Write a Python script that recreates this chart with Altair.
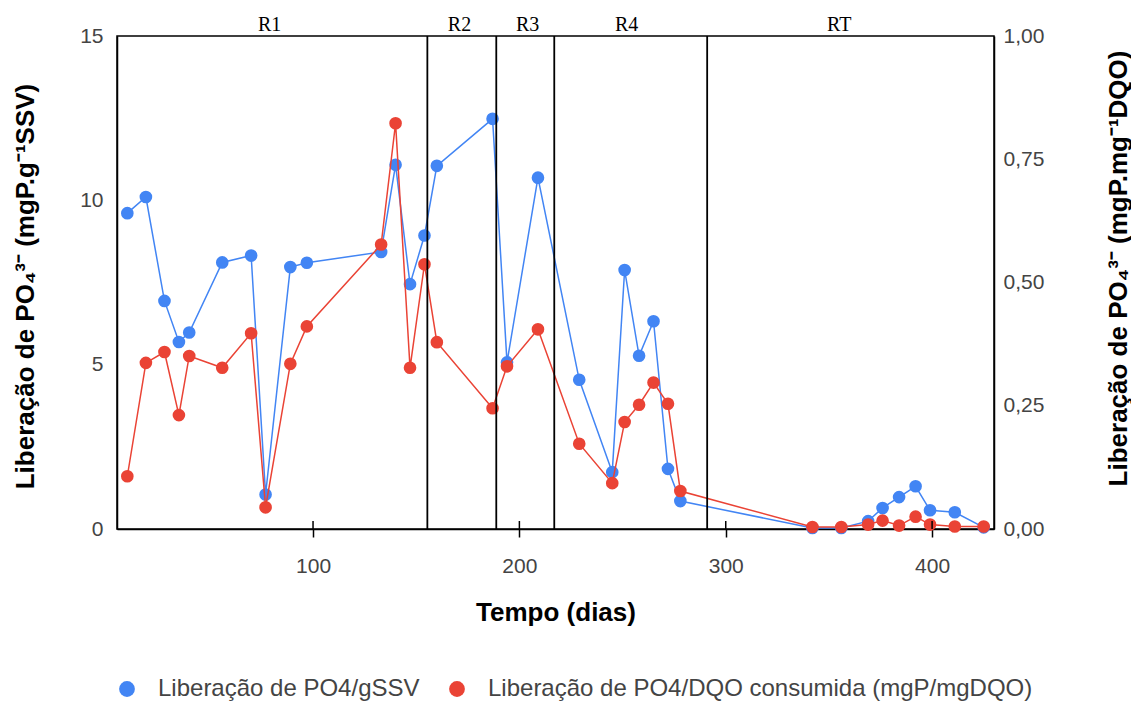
import altair as alt
import pandas as pd

# Sampling days (shared by both series)
dias = [10, 19, 28, 35, 40, 56, 70, 77, 89, 97, 133, 140, 147, 154, 160, 187,
        194, 209, 229, 245, 251, 258, 265, 272, 278, 342, 356, 369, 376, 384,
        392, 399, 411, 425]

# Phosphate release per gram of volatile suspended solids (mgP/gSSV)
po4_ssv = [9.61, 10.10, 6.94, 5.69, 5.98, 8.11, 8.32, 1.05, 7.97, 8.10, 8.43,
           11.08, 7.45, 8.93, 11.05, 12.48, 5.07, 10.69, 4.54, 1.73, 7.88, 5.27,
           6.32, 1.83, 0.85, 0.03, 0.03, 0.24, 0.64, 0.97, 1.30, 0.57, 0.51, 0.05]

# Phosphate release per consumed COD (mgP/mgDQO)
po4_dqo = [0.107, 0.337, 0.359, 0.231, 0.351, 0.327, 0.397, 0.044, 0.335, 0.411,
           0.577, 0.823, 0.327, 0.537, 0.379, 0.245, 0.330, 0.405, 0.173, 0.093,
           0.217, 0.252, 0.297, 0.254, 0.077, 0.004, 0.004, 0.009, 0.017, 0.007,
           0.025, 0.009, 0.005, 0.005]

# Operating phases
fases = ["R1", "R2", "R3", "R4", "RT"]
fases_dia = [79, 171, 204, 252, 355]
limites_fase = [155.4, 188.8, 216.9, 291.0]

ticks_x = [100, 200, 300, 400]

serie_ssv = "Liberação de PO4/gSSV"
serie_dqo = "Liberação de PO4/DQO consumida (mgP/mgDQO)"
azul = "#4285F4"
vermelho = "#EA4335"

df_ssv = pd.DataFrame({"dia": dias, "valor": po4_ssv, "serie": serie_ssv})
df_dqo = pd.DataFrame({"dia": dias, "valor": po4_dqo, "serie": serie_dqo})
df_fases = pd.DataFrame({"dia": fases_dia, "fase": fases})
df_limites = pd.DataFrame({"dia": limites_fase})
df_ticks = pd.DataFrame({"dia": ticks_x})

W, H = 877, 493
FONT = "Liberation Sans"

x_scale = alt.Scale(domain=[5, 430], nice=False, zero=False)
cor = alt.Color(
    "serie:N",
    scale=alt.Scale(domain=[serie_ssv, serie_dqo], range=[azul, vermelho]),
    legend=alt.Legend(
        title=None, orient="none", direction="horizontal",
        legendX=-2, legendY=641, symbolType="circle", symbolSize=250,
        symbolStrokeWidth=0, labelFontSize=24, labelFont=FONT, labelLimit=0,
        labelColor="#444444", columnPadding=25, labelOffset=19,
    ),
)

eixo_x = alt.X(
    "dia:Q", scale=x_scale,
    axis=alt.Axis(
        values=ticks_x, title="Tempo (dias)", grid=False,
        tickSize=8, tickColor="#000", tickWidth=1.5,
        domainColor="#000", domainWidth=1.5,
        labelFontSize=21, labelFont=FONT, labelColor="#444444", labelPadding=18,
        titleFontSize=26, titleFont=FONT, titleFontWeight="bold", titleColor="#000",
        titleY=83, titleBaseline="middle",
    ),
)

y_ssv = alt.Y(
    "valor:Q", scale=alt.Scale(domain=[0, 15], nice=False),
    axis=alt.Axis(
        values=[0, 5, 10, 15], grid=False, ticks=False,
        domainColor="#000", domainWidth=1.5,
        labelFontSize=21, labelFont=FONT, labelColor="#444444", labelPadding=14,
        title="Liberação de PO₄³⁻ (mgP.g⁻¹SSV)",
        titleFontSize=26, titleFont=FONT, titleFontWeight="bold", titleColor="#000",
        titleAngle=270, titleX=-92, titleY=250, titleAlign="center",
        titleBaseline="middle",
    ),
)

y_dqo = alt.Y(
    "valor:Q", scale=alt.Scale(domain=[0, 1], nice=False),
    axis=alt.Axis(
        orient="right", values=[0, 0.25, 0.5, 0.75, 1], grid=False, ticks=False,
        domainColor="#000", domainWidth=1.5,
        labelExpr="replace(format(datum.value, '.2f'), '.', ',')",
        labelFontSize=21, labelFont=FONT, labelColor="#444444", labelPadding=9,
        title="Liberação de PO₄³⁻ (mgP.mg⁻¹DQO)",
        titleFontSize=26, titleFont=FONT, titleFontWeight="bold", titleColor="#000",
        titleAngle=270, titleX=124, titleY=232, titleAlign="center",
        titleBaseline="middle",
    ),
)

linha_ssv = alt.Chart(df_ssv).mark_line(color=azul, strokeWidth=1.5).encode(
    x=eixo_x, y=y_ssv)
pontos_ssv = alt.Chart(df_ssv).mark_circle(size=160, opacity=1).encode(
    x=eixo_x, y=y_ssv, color=cor)
camada_ssv = alt.layer(linha_ssv, pontos_ssv)

linha_dqo = alt.Chart(df_dqo).mark_line(color=vermelho, strokeWidth=1.5).encode(
    x=eixo_x, y=y_dqo)
pontos_dqo = alt.Chart(df_dqo).mark_circle(size=160, opacity=1).encode(
    x=eixo_x, y=y_dqo, color=cor)
camada_dqo = alt.layer(linha_dqo, pontos_dqo)

divisorias = alt.Chart(df_limites).mark_rule(color="#000", strokeWidth=1.8).encode(
    x=eixo_x)

rotulos = alt.Chart(df_fases).mark_text(
    font="Liberation Serif", fontSize=20, color="#000", baseline="middle"
).encode(x=eixo_x, y=alt.value(-11), text="fase:N")

ticks_internos = alt.Chart(df_ticks).mark_rule(color="#000", strokeWidth=1.5).encode(
    x=eixo_x, y=alt.value(H - 8), y2=alt.value(H))

chart = alt.layer(
    camada_ssv, camada_dqo, divisorias, rotulos, ticks_internos
).resolve_scale(y="independent").properties(
    width=W, height=H, background="white",
    autosize=alt.AutoSizeParams(type="none"),
    padding={"left": 117, "top": 36, "right": 137, "bottom": 178},
).configure_view(stroke="#000", strokeWidth=1.5)

chart.save("out.html", embed_options={"renderer": "svg", "actions": False})
